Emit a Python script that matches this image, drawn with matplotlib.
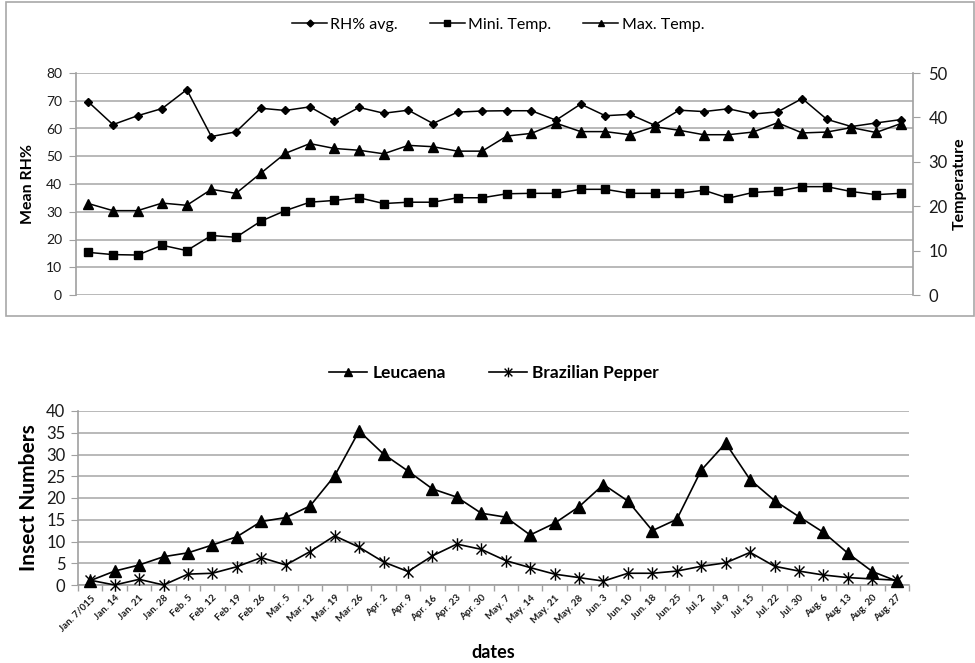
import matplotlib
matplotlib.use("Agg")
import matplotlib.pyplot as plt
from matplotlib.path import Path
from matplotlib.patches import Rectangle
import numpy as np

dates = ["Jan. 7/015", "Jan. 14", "Jan. 21", "Jan. 28", "Feb. 5", "Feb. 12", "Feb. 19",
         "Feb. 26", "Mar. 5", "Mar. 12", "Mar. 19", "Mar. 26", "Apr. 2", "Apr. 9",
         "Apr. 16", "Apr. 23", "Apr. 30", "May. 7", "May. 14", "May. 21", "May. 28",
         "Jun. 3", "Jun. 10", "Jun. 18", "Jun. 25", "Jul. 2", "Jul. 9", "Jul. 15",
         "Jul. 22", "Jul. 30", "Aug. 6", "Aug. 13", "Aug. 20", "Aug. 27"]

rh_avg = [69.6, 61.4, 64.6, 67.2, 74.0, 57.1, 58.8, 67.3, 66.5, 67.8,
          62.8, 67.6, 65.5, 66.6, 61.8, 65.9, 66.3, 66.4, 66.4, 63.0, 68.8, 64.6, 65.1,
          61.2, 66.6, 66.1, 67.1, 65.2, 66.0, 70.8, 63.3, 60.7, 62.0, 63.2]

min_temp = [9.6, 9.1, 9.0, 11.2, 10.0, 13.4, 13.0, 16.6, 19.0, 20.9,
            21.3, 21.9, 20.6, 20.9, 20.9, 21.9, 21.9, 22.8, 22.9, 22.9, 23.8, 23.8, 22.9,
            22.9, 22.9, 23.6, 21.8, 23.1, 23.4, 24.4, 24.4, 23.3, 22.6, 22.9]

max_temp = [20.6, 19.0, 19.0, 20.7, 20.2, 23.8, 22.9, 27.4, 31.9, 34.1,
            33.0, 32.6, 31.8, 33.7, 33.4, 32.4, 32.4, 35.8, 36.4, 38.7, 36.8, 36.8, 36.1,
            37.9, 37.1, 36.1, 36.1, 36.7, 38.8, 36.5, 36.7, 37.7, 36.6, 38.6]

leucaena = [1.0, 3.2, 4.6, 6.5, 7.4, 9.2, 11.1, 14.6, 15.5, 18.2,
            25.1, 35.4, 30.1, 26.2, 22.1, 20.2, 16.5, 15.6, 11.5, 14.2, 18.0, 23.1, 19.3,
            12.5, 15.1, 26.4, 32.6, 24.2, 19.4, 15.7, 12.1, 7.3, 3.1, 0.9]

brazilian = [1.1, 0.0, 1.3, 0.0, 2.5, 2.7, 4.2, 6.3, 4.6, 7.7,
             11.3, 8.7, 5.3, 3.1, 6.7, 9.4, 8.2, 5.6, 4.0, 2.5, 1.7, 0.9, 2.7,
             2.7, 3.2, 4.3, 5.1, 7.5, 4.3, 3.2, 2.3, 1.7, 1.4, 1.1]

rh_ticks = [0, 10, 20, 30, 40, 50, 60, 70, 80]
temp_ticks = [0, 10, 20, 30, 40, 50]
insect_ticks = [0, 5, 10, 15, 20, 25, 30, 35, 40]

plt.rcParams['font.family'] = ['Lato', 'DejaVu Sans']
GRID = '#a6a6a6'
AX = '#a0a0a0'
TXT = '#1a1a1a'

fig = plt.figure(figsize=(9.75, 6.63), dpi=100)

# outer box of top chart
fig.patches.append(Rectangle((6 / 975, 1 - 316 / 663), (974 - 6) / 975, (316 - 2) / 663,
                             transform=fig.transFigure, fill=False, edgecolor='#a8a8a8',
                             linewidth=1.2))

x = np.arange(len(dates))

# ---------------- Top chart ----------------
ax1 = fig.add_axes([76 / 975, 1 - 295 / 663, (913 - 76) / 975, 222 / 663])
ax2 = ax1.twinx()
ax1.set_xlim(-0.5, len(dates) - 0.5)
ax1.set_ylim(0, 80)
ax2.set_ylim(0, 50)
ax1.set_yticks(rh_ticks)
ax2.set_yticks(temp_ticks)
ax1.yaxis.grid(True, color=GRID, linewidth=1.1)
ax1.set_axisbelow(True)
ax1.set_xticks([])
for sp in ['top', 'right', 'bottom']:
    ax1.spines[sp].set_visible(False)
for sp in ['top', 'left', 'bottom']:
    ax2.spines[sp].set_visible(False)
ax1.spines['left'].set_color(AX)
ax1.spines['left'].set_linewidth(1.2)
ax2.spines['right'].set_color(AX)
ax2.spines['right'].set_linewidth(1.2)
ax1.tick_params(axis='y', length=5, color=AX, labelsize=10, labelcolor=TXT, pad=5)
ax2.tick_params(axis='y', length=5, color=AX, labelsize=12, labelcolor=TXT, pad=6)

l1, = ax1.plot(x, rh_avg, color='black', linewidth=1.1, marker='D', markersize=4.5,
               label='RH% avg.')
l2, = ax2.plot(x, min_temp, color='black', linewidth=1.1, marker='s', markersize=6,
               label='Mini. Temp.')
l3, = ax2.plot(x, max_temp, color='black', linewidth=1.1, marker='^', markersize=6.5,
               label='Max. Temp.')
ax1.set_ylabel('Mean RH%', fontsize=11.5, fontweight='bold', labelpad=8)
ax2.set_ylabel('Temperature', fontsize=11.5, fontweight='bold', labelpad=4)

leg1 = fig.legend(handles=[
    plt.Line2D([], [], color='black', lw=1.1, marker='D', markersize=3.5),
    plt.Line2D([], [], color='black', lw=1.1, marker='s', markersize=4),
    plt.Line2D([], [], color='black', lw=1.1, marker='^', markersize=4.5)],
    labels=['RH% avg.', 'Mini. Temp.', 'Max. Temp.'],
    loc='center', bbox_to_anchor=(498 / 975, 1 - 25 / 663), ncol=3, frameon=False,
    fontsize=11.5, handlelength=2.2, handletextpad=0.2, columnspacing=2.0)

# ---------------- Bottom chart ----------------
ax3 = fig.add_axes([78 / 975, 1 - 585 / 663, (909 - 78) / 975, 174 / 663])
ax3.set_xlim(-0.5, len(dates) - 0.5)
ax3.set_ylim(0, 40)
ax3.set_yticks(insect_ticks)
ax3.yaxis.grid(True, color=GRID, linewidth=1.1)
ax3.set_axisbelow(True)
for sp in ['top', 'right']:
    ax3.spines[sp].set_visible(False)
for sp in ['left', 'bottom']:
    ax3.spines[sp].set_color(AX)
    ax3.spines[sp].set_linewidth(1.2)
ax3.set_xticks(x)
ax3.set_xticklabels(dates, rotation=45, ha='right', rotation_mode='anchor',
                    fontsize=7, fontweight='bold', color=TXT)
ax3.set_xticks(np.arange(-0.5, len(dates) + 0.5, 1), minor=True)
ax3.tick_params(axis='x', which='major', length=0, pad=6)
ax3.tick_params(axis='x', which='minor', length=4, color=AX, width=1)
ax3.tick_params(axis='y', length=5, color=AX, labelsize=12, labelcolor=TXT, pad=4)

star = Path([(-1, -1), (1, 1), (-1, 1), (1, -1), (0, -1.25), (0, 1.25)],
            [Path.MOVETO, Path.LINETO, Path.MOVETO, Path.LINETO, Path.MOVETO, Path.LINETO])

ax3.plot(x, leucaena, color='black', linewidth=1.2, marker='^', markersize=8,
         clip_on=False, zorder=3)
ax3.plot(x, brazilian, color='black', linewidth=1.2, marker=star, markersize=9,
         markeredgewidth=1.0, clip_on=False, zorder=3)
ax3.set_ylabel('Insect Numbers', fontsize=15, fontweight='bold', labelpad=5)
ax3.set_xlabel('dates', fontsize=13, fontweight='bold', labelpad=8)

leg2 = fig.legend(handles=[
    plt.Line2D([], [], color='black', lw=1.2, marker='^', markersize=6),
    plt.Line2D([], [], color='black', lw=1.2, marker=star, markersize=7, markeredgewidth=1.0)],
    labels=['Leucaena', 'Brazilian Pepper'],
    loc='center', bbox_to_anchor=(494 / 975, 1 - 373 / 663), ncol=2, frameon=False,
    prop={'size': 12.5, 'weight': 'bold'}, handlelength=2.2, handletextpad=0.3,
    columnspacing=2.5)

fig.savefig('out.png', dpi=100)
